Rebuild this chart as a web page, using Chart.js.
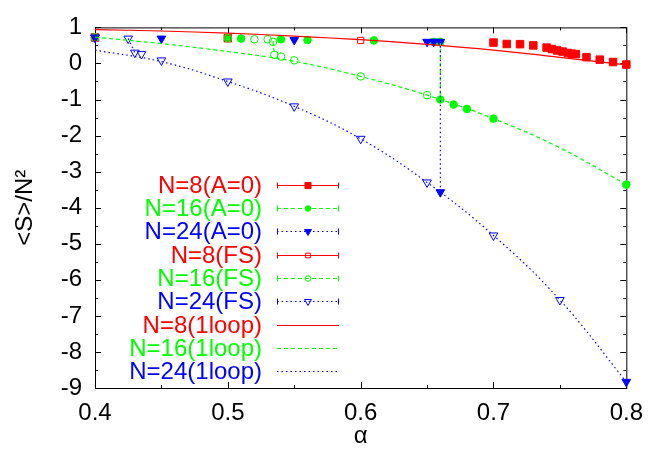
<!DOCTYPE html>
<html>
<head>
<meta charset="utf-8">
<script src="https://cdn.jsdelivr.net/npm/chart.js@4.4.1/dist/chart.umd.min.js"></script>
<style>
  body { margin: 0; background: #fff; }
  #wrap { width: 654px; height: 459px; }
</style>
</head>
<body>
<div id="wrap"><canvas id="myChart" width="654" height="459"></canvas></div>
<script>
const xTicks = [0.4, 0.5, 0.6, 0.7, 0.8]
const xTickLabels = ["0.4", "0.5", "0.6", "0.7", "0.8"]
const xMinorTicks = [0.45, 0.55, 0.65, 0.75]
const yTicks = [-9, -8, -7, -6, -5, -4, -3, -2, -1, 0, 1]
const yTickLabels = ["-9", "-8", "-7", "-6", "-5", "-4", "-3", "-2", "-1", "0", "1"]
const yMinorTicks = [-8.5, -7.5, -6.5, -5.5, -4.5, -3.5, -2.5, -1.5, -0.5, 0.5]

// Monte Carlo, A=0 start
const n8A0X = [0.4, 0.5, 0.70, 0.71, 0.72, 0.73, 0.74, 0.744, 0.748, 0.752, 0.756, 0.759, 0.762, 0.77, 0.78, 0.79, 0.80]
const n8A0Y = [0.72, 0.70, 0.58, 0.54, 0.535, 0.50, 0.44, 0.40, 0.36, 0.33, 0.29, 0.27, 0.26, 0.175, 0.105, 0.04, -0.03]
const n16A0X = [0.4, 0.5, 0.51, 0.54, 0.56, 0.61, 0.655, 0.66, 0.66, 0.67, 0.68, 0.70, 0.80]
const n16A0Y = [0.72, 0.70, 0.69, 0.67, 0.65, 0.64, 0.60, 0.60, -1.0, -1.14, -1.26, -1.53, -3.36]
const n24A0X = [0.4, 0.45, 0.55, 0.65, 0.655, 0.66, 0.66, 0.80]
const n24A0Y = [0.72, 0.69, 0.65, 0.60, 0.60, 0.60, -3.57, -8.83]

// Monte Carlo, fuzzy sphere start
const n8FSX = [0.4, 0.5, 0.6]
const n8FSY = [0.72, 0.70, 0.64]
const n16FSX = [0.4, 0.5, 0.52, 0.53, 0.534, 0.535, 0.54, 0.55, 0.6, 0.65]
const n16FSY = [0.72, 0.70, 0.67, 0.67, 0.60, 0.24, 0.19, 0.086, -0.36, -0.88]
const n24FSX = [0.4, 0.425, 0.43, 0.435, 0.45, 0.5, 0.55, 0.6, 0.65, 0.7, 0.75]
const n24FSY = [0.72, 0.69, 0.30, 0.26, 0.085, -0.50, -1.19, -2.09, -3.30, -4.77, -6.56]

// one loop curves
const loopX = [0.4, 0.45, 0.5, 0.55, 0.6, 0.65, 0.7, 0.75, 0.8]
const n8LoopY = [0.94, 0.90, 0.84, 0.76, 0.66, 0.53, 0.37, 0.17, -0.04]
const n16LoopY = [0.73, 0.55, 0.33, 0.06, -0.36, -0.88, -1.53, -2.34, -3.36]
const n24LoopY = [0.37, 0.05, -0.50, -1.19, -2.09, -3.30, -4.77, -6.56, -8.83]

// jumps at the transition
const n16JumpX = [0.66, 0.66]
const n16JumpY = [0.60, -1.0]
const n24JumpX = [0.66, 0.66]
const n24JumpY = [0.60, -3.57]
const n16FSJumpX = [0.534, 0.535]
const n16FSJumpY = [0.62, 0.24]
const n24FSJumpX = [0.425, 0.43]
const n24FSJumpY = [0.69, 0.30]

const red = "#ff0000"
const green = "#00ff00"
const blue = "#0000ff"
const font = "'Liberation Sans', Arial, Helvetica, sans-serif"
const fontSize = 24
const solid = []
const dashed = [4, 3]
const dotted = [1.5, 3]

const pts = (xs, ys) => xs.map((x, i) => ({ x: x, y: ys[i] }))

const markers = (label, xs, ys, color, style, radius, filled, dash, rotation) => ({
  label: label,
  data: pts(xs, ys),
  showLine: false,
  pointStyle: style,
  pointRadius: radius,
  pointRotation: rotation || 0,
  pointBorderWidth: 1,
  pointBorderColor: color,
  pointBackgroundColor: filled ? color : "rgba(0,0,0,0)",
  borderColor: color,
  clip: false,
  inLegend: true,
  legendDash: dash,
  legendCaps: true,
})

const curve = (label, xs, ys, color, dash, tension, inLegend) => ({
  label: label,
  data: pts(xs, ys),
  showLine: true,
  pointRadius: 0,
  borderColor: color,
  borderWidth: 1.2,
  borderDash: dash,
  tension: tension,
  clip: false,
  inLegend: inLegend,
  legendDash: dash,
  legendCaps: false,
})

const datasets = [
  markers("N=8(A=0)", n8A0X, n8A0Y, red, "rect", 5.3, true, solid),
  markers("N=16(A=0)", n16A0X, n16A0Y, green, "circle", 3.8, true, dashed),
  markers("N=24(A=0)", n24A0X, n24A0Y, blue, "triangle", 5, true, dotted, 180),
  markers("N=8(FS)", n8FSX, n8FSY, red, "rect", 4.3, false, solid),
  markers("N=16(FS)", n16FSX, n16FSY, green, "circle", 3.8, false, dashed),
  markers("N=24(FS)", n24FSX, n24FSY, blue, "triangle", 5, false, dotted, 180),
  curve("N=8(1loop)", loopX, n8LoopY, red, solid, 0.4, true),
  curve("N=16(1loop)", loopX, n16LoopY, green, dashed, 0.4, true),
  curve("N=24(1loop)", loopX, n24LoopY, blue, dotted, 0.4, true),
  curve("jump16", n16JumpX, n16JumpY, green, dashed, 0, false),
  curve("jump24", n24JumpX, n24JumpY, blue, dotted, 0, false),
  curve("jump16FS", n16FSJumpX, n16FSJumpY, green, dashed, 0, false),
  curve("jump24FS", n24FSJumpX, n24FSJumpY, blue, dotted, 0, false),
]
// later datasets on top, like gnuplot
datasets.forEach((ds, i) => { ds.order = datasets.length - i })

const majorLen = 6
const minorLen = 3

const framePlugin = {
  id: "frame",
  beforeDatasetsDraw(chart) {
    const { ctx, chartArea: a, scales } = chart
    const xs = scales.x
    const ys = scales.y
    ctx.save()
    ctx.strokeStyle = "#000"
    ctx.lineWidth = 1
    ctx.strokeRect(a.left + 0.5, a.top + 0.5, a.right - a.left, a.bottom - a.top)
    ctx.beginPath()
    const xTick = (v, len) => {
      const px = Math.round(xs.getPixelForValue(v)) + 0.5
      ctx.moveTo(px, a.bottom)
      ctx.lineTo(px, a.bottom - len)
      ctx.moveTo(px, a.top)
      ctx.lineTo(px, a.top + len)
    }
    const yTick = (v, len) => {
      const py = Math.round(ys.getPixelForValue(v)) + 0.5
      ctx.moveTo(a.left, py)
      ctx.lineTo(a.left + len, py)
      ctx.moveTo(a.right, py)
      ctx.lineTo(a.right - len, py)
    }
    xTicks.forEach((v) => xTick(v, majorLen))
    xMinorTicks.forEach((v) => xTick(v, minorLen))
    yTicks.forEach((v) => yTick(v, majorLen))
    yMinorTicks.forEach((v) => yTick(v, minorLen))
    ctx.stroke()
    ctx.restore()
  },
}

const legendTextRight = 262
const legendTop = 184.5
const legendStep = 23.35
const sampleLeft = 277
const sampleRight = 339

const legendPlugin = {
  id: "sideLegend",
  afterDraw(chart) {
    const ctx = chart.ctx
    ctx.save()
    ctx.font = fontSize + "px " + font
    ctx.textAlign = "right"
    ctx.textBaseline = "middle"
    let row = 0
    chart.data.datasets.forEach((ds) => {
      if (!ds.inLegend) return
      const y = Math.round(legendTop + row * legendStep) + 0.5
      ctx.fillStyle = ds.borderColor
      ctx.fillText(ds.label, legendTextRight, y + 1)
      ctx.strokeStyle = ds.borderColor
      ctx.lineWidth = 1
      ctx.setLineDash(ds.legendDash)
      ctx.beginPath()
      ctx.moveTo(sampleLeft, y)
      ctx.lineTo(sampleRight, y)
      ctx.stroke()
      ctx.setLineDash([])
      if (ds.legendCaps) {
        ctx.beginPath()
        ctx.moveTo(sampleLeft + 0.5, y - 3)
        ctx.lineTo(sampleLeft + 0.5, y + 3)
        ctx.moveTo(sampleRight - 0.5, y - 3)
        ctx.lineTo(sampleRight - 0.5, y + 3)
        ctx.stroke()
        ctx.fillStyle = ds.pointBackgroundColor
        Chart.helpers.drawPoint(ctx, {
          pointStyle: ds.pointStyle,
          rotation: ds.pointRotation,
          radius: ds.pointRadius - 1,
          borderWidth: 1,
        }, (sampleLeft + sampleRight) / 2, y)
      }
      row++
    })
    ctx.restore()
  },
}

const config = {
  type: "scatter",
  data: { datasets: datasets },
  options: {
    responsive: false,
    animation: false,
    events: [],
    layout: { padding: { left: 0, right: 18, top: 16, bottom: 0 } },
    plugins: { legend: { display: false }, tooltip: { enabled: false } },
    scales: {
      x: {
        type: "linear",
        min: 0.4,
        max: 0.8,
        grid: { display: false, drawTicks: false },
        border: { display: false },
        afterBuildTicks: (axis) => { axis.ticks = xTicks.map((v) => ({ value: v })) },
        afterFit: (axis) => { axis.height = 71 },
        ticks: {
          padding: 11,
          color: "#000",
          font: { family: font, size: fontSize },
          callback: (v, i) => xTickLabels[i],
        },
        title: {
          display: true,
          text: "α",
          color: "#000",
          font: { family: font, size: fontSize },
          padding: { top: 0, bottom: 8 },
        },
      },
      y: {
        type: "linear",
        min: -9,
        max: 1,
        grid: { display: false, drawTicks: false },
        border: { display: false },
        afterBuildTicks: (axis) => { axis.ticks = yTicks.map((v) => ({ value: v })) },
        afterFit: (axis) => { axis.width = 95 },
        ticks: {
          padding: 13,
          color: "#000",
          font: { family: font, size: fontSize },
          callback: (v, i) => yTickLabels[i],
        },
        title: {
          display: true,
          text: "<S>/N²",
          color: "#000",
          font: { family: font, size: fontSize },
          padding: { top: 11, bottom: 0 },
        },
      },
    },
  },
  plugins: [framePlugin, legendPlugin],
}

const myChart = new Chart(document.getElementById("myChart"), config)
</script>
</body>
</html>
